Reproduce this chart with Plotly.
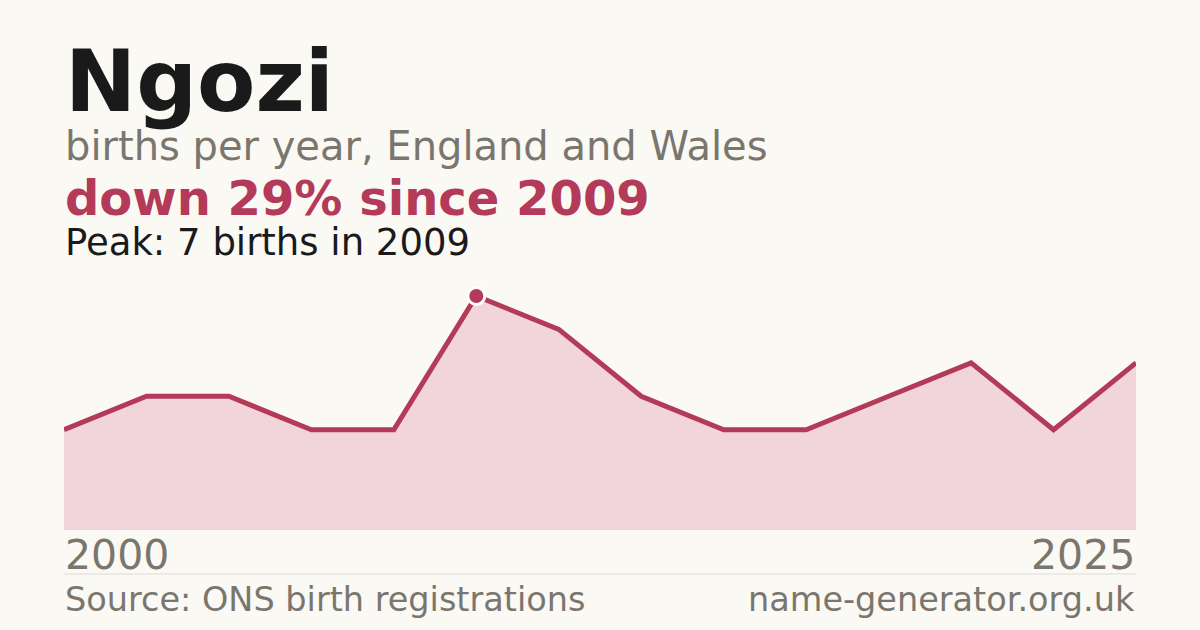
import plotly.graph_objects as go

# births per year (only years with a recorded count)
years = ["2000", "2003", "2005", "2006", "2008", "2009", "2011",
         "2013", "2015", "2017", "2019", "2021", "2023", "2025"]
births = [3, 4, 4, 3, 3, 7, 6, 4, 3, 3, 4, 5, 3, 5]

name = "Ngozi"
subtitle = "births per year, England and Wales"
peak_idx = births.index(max(births))
change = round((births[-1] - births[peak_idx]) / births[peak_idx] * 100)
headline = f"down {abs(change)}% since {years[peak_idx]}"
peak_text = f"Peak: {births[peak_idx]} births in {years[peak_idx]}"
source = "Source: ONS birth registrations"
site = "name-generator.org.uk"

BG = "#faf9f4"
RED = "#b33a58"
FILL = "#f2d5da"
GREY = "#7a766e"
INK = "#1a1a1a"
FONT = "DejaVu Sans"

W, H = 1200, 630
TOP, BOTTOM = 296, 530  # plot area in pixels


def py(p):
	# pixel row -> paper y
	return (BOTTOM - p) / (BOTTOM - TOP)


xs = list(range(len(years)))

fig = go.Figure()
fig.add_trace(go.Scatter(
	x=xs, y=births, mode="lines",
	line=dict(color=RED, width=5),
	fill="tozeroy", fillcolor=FILL,
	hoverinfo="skip", cliponaxis=False,
))
fig.add_trace(go.Scatter(
	x=[xs[peak_idx]], y=[births[peak_idx]], mode="markers",
	marker=dict(size=17, color=RED, line=dict(color="white", width=3)),
	hoverinfo="skip", cliponaxis=False,
))

ann = [
	dict(text=f"<b>{name}</b>", y=py(82), size=85, color=INK, x=0, xanchor="left"),
	dict(text=subtitle, y=py(146), size=40, color=GREY, x=0, xanchor="left"),
	dict(text=f"<b>{headline}</b>", y=py(198), size=48, color=RED, x=0, xanchor="left"),
	dict(text=peak_text, y=py(242), size=37, color=INK, x=0, xanchor="left"),
	dict(text=years[0], y=py(555), size=41, color=GREY, x=0, xanchor="left"),
	dict(text=years[-1], y=py(555), size=41, color=GREY, x=1, xanchor="right"),
	dict(text=source, y=py(599), size=33.5, color=GREY, x=0, xanchor="left"),
	dict(text=site, y=py(599), size=33.5, color=GREY, x=1, xanchor="right"),
]
for a in ann:
	fig.add_annotation(
		text=a["text"], x=a["x"], y=a["y"], xref="paper", yref="paper",
		xanchor=a["xanchor"], yanchor="middle", showarrow=False,
		font=dict(family=FONT, size=a["size"], color=a["color"]),
		borderpad=0,
	)

fig.add_shape(type="line", xref="paper", yref="paper", x0=0, x1=1,
	y0=py(574), y1=py(574), line=dict(color="#dddbd4", width=1))

fig.update_layout(
	width=W, height=H,
	paper_bgcolor=BG, plot_bgcolor=BG,
	margin=dict(l=64, r=64, t=TOP, b=H - BOTTOM),
	showlegend=False,
	xaxis=dict(visible=False, range=[0, len(years) - 1], fixedrange=True),
	yaxis=dict(visible=False, range=[0, max(births)], fixedrange=True),
)

fig.write_html("out.html", post_script="document.body.style.margin='0';",
	config={"displayModeBar": False})
